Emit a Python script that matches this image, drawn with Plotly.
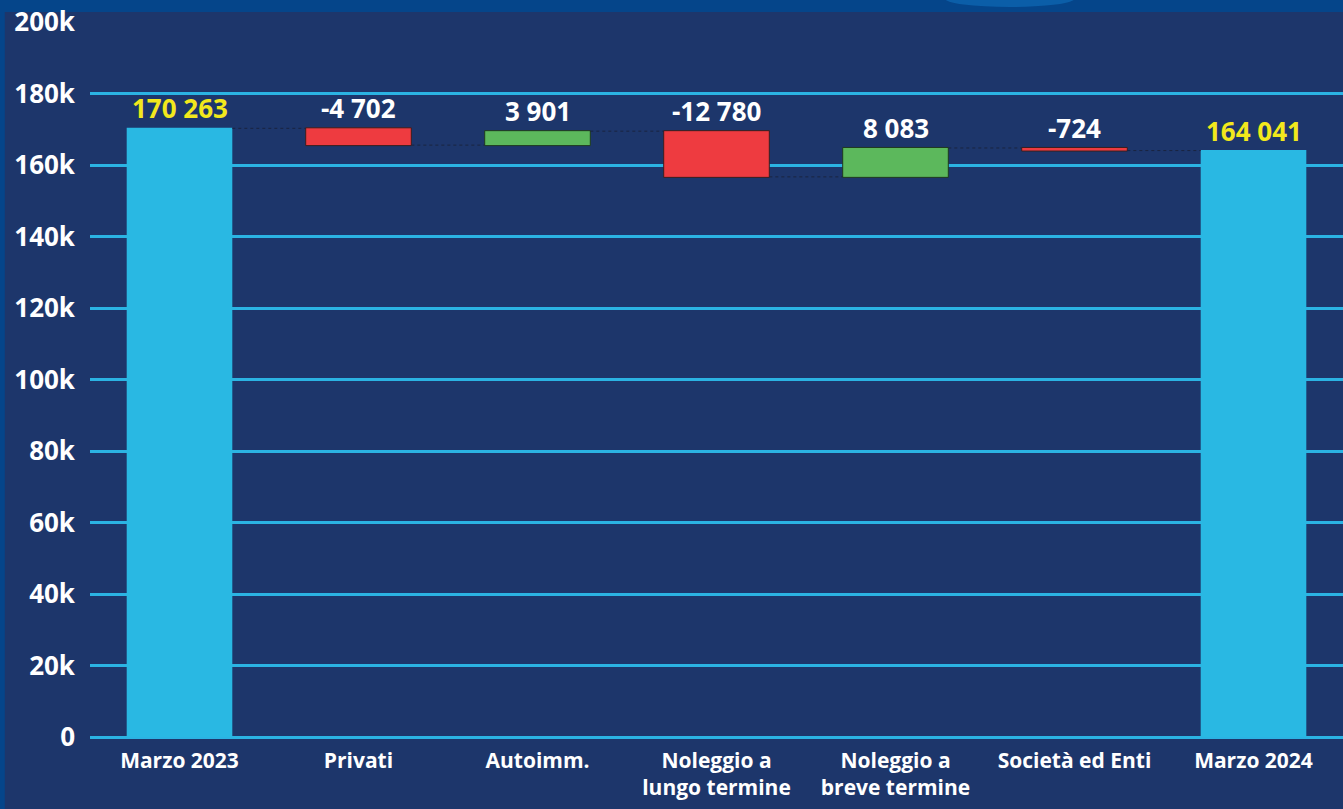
import plotly.graph_objects as go

categories = ["Marzo 2023", "Privati", "Autoimm.", "Noleggio a<br>lungo termine",
              "Noleggio a<br>breve termine", "Società ed Enti", "Marzo 2024"]
values = [170263, -4702, 3901, -12780, 8083, -724, 164041]
measures = ["absolute", "relative", "relative", "relative", "relative", "relative", "total"]

NAVY = "#1d366b"
GRID = "#2bb3e3"
TOTAL = "#29b8e3"
RED = "#ee3b40"
GREEN = "#5cb85c"
FONT = "Open Sans"

fig = go.Figure()
fig.add_trace(go.Waterfall(
    x=categories, y=values, measure=measures,
    width=0.59,
    textposition="none",
    increasing=dict(marker=dict(color=GREEN, line=dict(color="#1f3a1f", width=1))),
    decreasing=dict(marker=dict(color=RED, line=dict(color="#3a1f1f", width=1))),
    totals=dict(marker=dict(color=TOTAL, line=dict(color=TOTAL, width=0))),
    connector=dict(mode="between", line=dict(color="#1a2440", width=1, dash="dot")),
    showlegend=False,
))

# labels above each bar
running = 0
for cat, v, m in zip(categories, values, measures):
    if m == "absolute":
        start, end = 0, v
        running = v
    elif m == "total":
        start, end = 0, running
    else:
        start, end = running, running + v
        running = end
    top = max(start, end)
    txt = f"{v:,}".replace(",", " ")
    color = "#f2e81c" if m in ("absolute", "total") else "#ffffff"
    fig.add_annotation(x=cat, y=top, text=txt, showarrow=False, yanchor="bottom",
                       yshift=0, font=dict(family=FONT, size=26, color=color, weight=700))

fig.update_layout(
    width=1343, height=809,
    margin=dict(l=90, r=0, t=22, b=72, autoexpand=False),
    paper_bgcolor="#05458a",
    plot_bgcolor=NAVY,
    font=dict(family=FONT, color="white"),
    shapes=[
        dict(type="rect", xref="paper", yref="paper", x0=-0.068, x1=1.01,
             y0=-0.11, y1=1.014, fillcolor=NAVY, line=dict(width=0), layer="below"),
        dict(type="circle", xref="paper", yref="paper", x0=0.682, x1=0.786,
             y0=1.021, y1=1.045, fillcolor="#0b5ea8", line=dict(width=0), layer="below"),
    ],
)
fig.update_xaxes(showgrid=False, automargin=False,
                 tickfont=dict(family=FONT, size=21, color="white", weight=700),
                 ticklabelstandoff=9, range=[-0.5, 6.5])
fig.update_yaxes(range=[0, 200000], dtick=20000, tickformat="~s", automargin=False,
                 showgrid=True, gridcolor=GRID, gridwidth=3,
                 zeroline=True, zerolinecolor=GRID, zerolinewidth=3,
                 tickfont=dict(family=FONT, size=26, color="white", weight=700),
                 ticklabelstandoff=14)

fig.write_html("out.html", config={"displayModeBar": False},
               post_script="document.body.style.margin='0';document.body.style.background='#05458a';")
